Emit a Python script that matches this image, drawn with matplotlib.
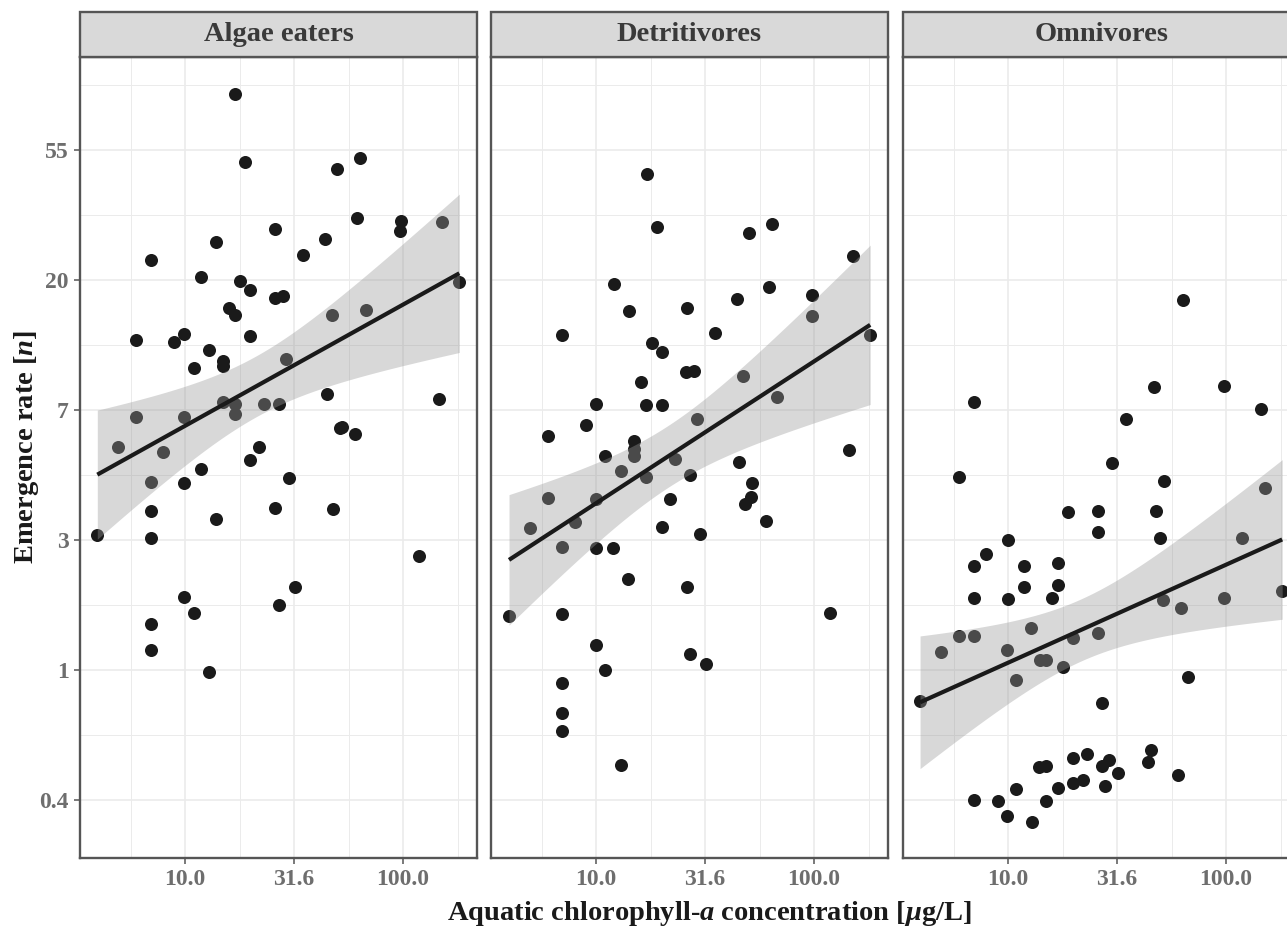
import numpy as np
import matplotlib
matplotlib.use("Agg")
import matplotlib.pyplot as plt
from matplotlib.patches import Rectangle
from matplotlib.ticker import FixedLocator, NullFormatter

plt.rcParams['font.family'] = ['Liberation Serif', 'DejaVu Serif']
plt.rcParams['font.weight'] = 'bold'
plt.rcParams['mathtext.fontset'] = 'custom'
plt.rcParams['mathtext.rm'] = 'Liberation Serif:bold'
plt.rcParams['mathtext.it'] = 'Liberation Serif:italic:bold'

panels = ["Algae eaters", "Detritivores", "Omnivores"]

# chlorophyll-a (ug/L) and emergence rate
algae_chl = [17.0, 18.9, 50.0, 63.7, 61.7, 97.9, 96.9, 151.5, 25.9, 43.9, 13.9, 34.8, 6.98,
             11.9, 17.9, 19.9, 25.9, 28.1, 181.3, 15.9, 17.0, 47.1, 67.5, 5.94, 8.93, 9.93,
             12.9, 19.9, 15.0, 15.0, 11.0, 29.0, 44.8, 145.8, 14.9, 17.0, 17.0, 23.0, 27.0,
             5.94, 9.93, 4.93, 7.93, 21.9, 19.9, 51.2, 52.3, 60.3, 11.9, 6.98, 9.93, 30.0,
             6.98, 13.9, 25.9, 47.7, 3.96, 6.98, 118.0, 9.93, 31.9, 27.0, 11.0, 6.98, 6.98, 12.9]
algae_emr = [84.2, 49.9, 47.2, 51.2, 32.4, 31.6, 29.3, 31.3, 29.8, 27.5, 26.8, 24.3, 23.4,
             20.6, 20.0, 18.6, 17.5, 17.8, 19.7, 16.2, 15.3, 15.3, 15.9, 12.7, 12.5, 13.3,
             11.7, 13.1, 10.8, 10.4, 10.2, 10.9, 8.34, 8.06, 7.88, 7.72, 7.18, 7.74, 7.72,
             7.02, 6.99, 5.56, 5.34, 5.56, 5.04, 6.42, 6.48, 6.16, 4.70, 4.26, 4.21, 4.37,
             3.40, 3.20, 3.48, 3.45, 2.83, 2.76, 2.41, 1.76, 1.89, 1.65, 1.55, 1.42, 1.17, 0.985]

detri_chl = [17.1, 19.1, 50.3, 64.2, 151.0, 12.1, 14.1, 26.2, 44.2, 62.4, 98.2, 98.2, 7.0,
             35.0, 181.0, 18.0, 20.0, 26.0, 28.2, 16.0, 47.2, 67.7, 10.0, 17.0, 20.0, 29.1,
             9.0, 6.0, 145.0, 15.0, 15.0, 15.0, 11.0, 23.1, 13.0, 45.1, 17.0, 27.1, 52.1,
             51.4, 48.1, 6.0, 10.0, 21.9, 4.98, 7.98, 60.3, 20.0, 30.0, 7.0, 10.0, 12.0,
             14.0, 26.1, 3.99, 7.0, 118.0, 10.0, 27.0, 32.1, 11.0, 7.0, 7.0, 7.0, 13.0]
detri_emr = [45.5, 30.3, 28.9, 31.0, 24.2, 19.4, 15.8, 16.2, 17.3, 19.1, 17.9, 15.2, 13.2,
             13.4, 13.2, 12.4, 11.5, 9.90, 10.0, 9.19, 9.58, 8.15, 7.72, 7.70, 7.68, 6.88,
             6.58, 6.06, 5.43, 5.81, 5.49, 5.19, 5.19, 5.08, 4.63, 4.96, 4.42, 4.49, 4.22,
             3.78, 3.58, 3.75, 3.72, 3.73, 2.97, 3.11, 3.15, 3.01, 2.85, 2.57, 2.55, 2.56,
             2.01, 1.89, 1.51, 1.54, 1.55, 1.21, 1.13, 1.05, 1.0, 0.905, 0.718, 0.624, 0.482]

omni_chl = [63.7, 6.98, 46.9, 97.9, 145.0, 34.8, 29.9, 5.96, 51.8, 151.5, 18.9, 25.9, 47.9,
            25.9, 50.0, 10.0, 119.0, 7.95, 6.98, 11.9, 17.0, 11.9, 17.0, 6.98, 10.0, 15.9,
            51.2, 62.2, 97.9, 181.0, 5.96, 6.98, 12.8, 4.93, 9.9, 19.9, 26.0, 14.0, 15.0,
            17.9, 10.9, 3.95, 26.9, 67.2, 45.1, 44.0, 23.0, 19.9, 29.0, 26.9, 31.9, 13.9,
            15.0, 17.0, 19.9, 22.0, 28.0, 60.0, 10.9, 6.98, 8.97, 14.9, 9.93, 12.9]
omni_emr = [17.2, 7.88, 8.80, 8.89, 7.46, 6.88, 4.93, 4.40, 4.27, 4.06, 3.37, 3.41, 3.41,
            2.89, 2.77, 2.72, 2.75, 2.44, 2.23, 2.23, 2.28, 1.89, 1.93, 1.74, 1.72, 1.74,
            1.71, 1.61, 1.74, 1.83, 1.30, 1.30, 1.38, 1.15, 1.17, 1.28, 1.33, 1.08, 1.08,
            1.02, 0.924, 0.788, 0.776, 0.950, 0.540, 0.492, 0.523, 0.509, 0.499, 0.479, 0.454, 0.473,
            0.479, 0.404, 0.420, 0.429, 0.411, 0.446, 0.401, 0.369, 0.364, 0.366, 0.325, 0.310]

x_ticks = [10 ** 1.0, 10 ** 1.5, 10 ** 2.0]
x_labels = ["10.0", "31.6", "100.0"]
y_ticks = list(np.exp(np.arange(-1, 5)))
y_labels = ["0.4", "1", "3", "7", "20", "55"]

data = [(algae_chl, algae_emr), (detri_chl, detri_emr), (omni_chl, omni_emr)]


def lm_band(x, y, n=80):
    # linear model on the log-log scale, 95% band like geom_smooth(method="lm")
    lx, ly = np.log(np.asarray(x)), np.log(np.asarray(y))
    b, a = np.polyfit(lx, ly, 1)
    res = ly - (a + b * lx)
    s = np.sqrt(np.sum(res ** 2) / (len(lx) - 2))
    gx = np.linspace(lx.min(), lx.max(), n)
    se = s * np.sqrt(1 / len(lx) + (gx - lx.mean()) ** 2 / np.sum((lx - lx.mean()) ** 2))
    fit = a + b * gx
    return np.exp(gx), np.exp(fit), np.exp(fit - 2.0 * se), np.exp(fit + 2.0 * se)


W, H = 1287, 932
fig = plt.figure(figsize=(W / 100, H / 100), dpi=100)
lefts = [80, 491, 903]
top, bottom, width = 57, 858, 397
edge = '#555555'

for i, name in enumerate(panels):
    ax = fig.add_axes([lefts[i] / W, 1 - bottom / H, width / W, (bottom - top) / H])
    x, y = data[i]
    ax.scatter(x, y, s=88, color='#1a1a1a', linewidths=0, zorder=2)
    gx, fit, lo, hi = lm_band(x, y)
    ax.fill_between(gx, lo, hi, color='#999999', alpha=0.38, linewidth=0, zorder=3)
    ax.plot(gx, fit, color='#1a1a1a', lw=3.0, zorder=4, solid_capstyle='butt')

    ax.set_xscale('log')
    ax.set_yscale('log')
    ax.set_xlim(10 ** 0.5183, 10 ** 2.3394)
    ax.set_ylim(np.exp(-1.446), np.exp(4.715))

    ax.xaxis.set_major_locator(FixedLocator(x_ticks))
    ax.xaxis.set_minor_locator(FixedLocator([10 ** v for v in (0.75, 1.25, 1.75, 2.25)]))
    ax.set_xticklabels(x_labels)
    ax.xaxis.set_minor_formatter(NullFormatter())
    ax.yaxis.set_major_locator(FixedLocator(y_ticks))
    ax.yaxis.set_minor_locator(FixedLocator(list(np.exp(np.arange(-1.5, 5, 1.0)))))
    ax.yaxis.set_minor_formatter(NullFormatter())

    ax.grid(which='major', color='#ebebeb', lw=1.2, zorder=0)
    ax.grid(which='minor', color='#ebebeb', lw=0.7, zorder=0)
    ax.set_axisbelow(True)
    ax.tick_params(which='major', length=4, width=1.1, color=edge, labelsize=17,
                   labelcolor='#6e6e6e', pad=4)
    ax.tick_params(which='minor', length=0)
    if i == 0:
        ax.set_yticklabels(y_labels)
    else:
        ax.set_yticklabels([])
        ax.tick_params(axis='y', which='major', length=0)
    for sp in ax.spines.values():
        sp.set_color(edge)
        sp.set_linewidth(1.7)

    sh = 45 / (bottom - top)
    ax.add_patch(Rectangle((0, 1), 1, sh, transform=ax.transAxes, clip_on=False,
                           facecolor='#d9d9d9', edgecolor=edge, lw=1.7, zorder=5))
    ax.text(0.5, 1 + sh / 2, name, transform=ax.transAxes, ha='center', va='center',
            fontsize=20.5, fontweight='bold', color='#3a3a3a', zorder=6)

fig.text(709 / W, 1 - 914 / H, r"Aquatic chlorophyll-$a$ concentration [$\mu$g/L]",
         ha='center', va='center', fontsize=20.5, fontweight='bold', color='#1a1a1a')
fig.text(27 / W, 1 - 447 / H, r"Emergence rate [$n$]", rotation=90,
         ha='center', va='center', fontsize=20.5, fontweight='bold', color='#1a1a1a')

fig.savefig("out.png", dpi=100)
